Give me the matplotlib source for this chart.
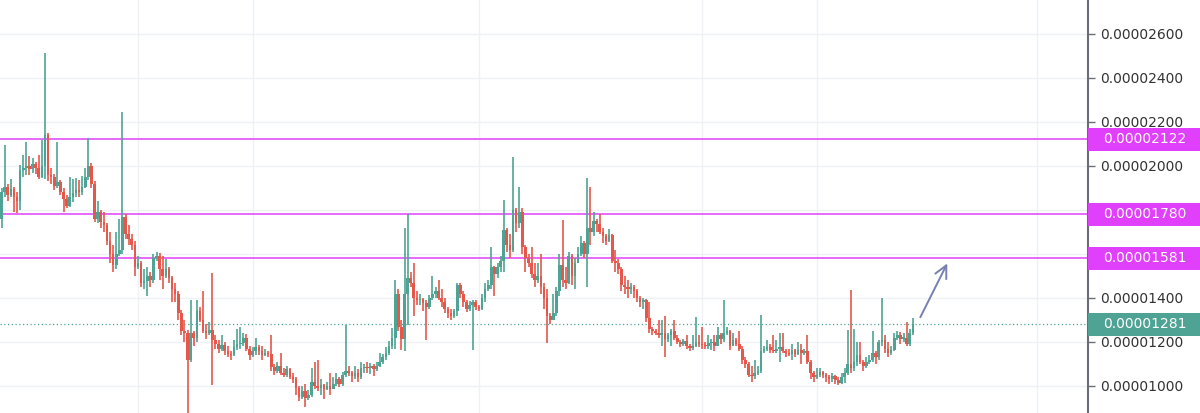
import matplotlib
matplotlib.use("Agg")
import matplotlib.pyplot as plt
import matplotlib.transforms as mtransforms
from matplotlib.patches import Rectangle
import numpy as np

# prices in units of 1e-8 (satoshi-style), open = previous close
SAT = 1e-8
first_open = 1760
close = [
    1880, 1905, 1870, 1895, 1860, 1840, 1980, 1990, 2000, 1985,
    2010, 1990, 1950, 2000, 2140, 1960, 1950, 1910, 1925, 1880,
    1850, 1820, 1860, 1875, 1890, 1880, 1905, 1950, 2000, 1920,
    1760, 1790, 1745, 1730, 1660, 1600, 1550, 1600, 1620, 1770,
    1690, 1670, 1640, 1540, 1560, 1470, 1475, 1500, 1480, 1580,
    1590, 1530, 1500, 1530, 1490, 1440, 1420, 1330, 1250, 1240,
    1120, 1240, 1220, 1340, 1300, 1250, 1240, 1255, 1210, 1190,
    1170, 1185, 1160, 1145, 1140, 1175, 1190, 1195, 1220, 1170,
    1140, 1160, 1175, 1160, 1140, 1150, 1145, 1085, 1070, 1090,
    1060, 1050, 1075, 1040, 1030, 990, 950, 975, 945, 960,
    1020, 1000, 990, 1005, 985, 1000, 985, 1010, 1030, 1010,
    1050, 1070, 1060, 1045, 1060, 1040, 1080, 1085, 1080, 1090,
    1075, 1090, 1110, 1130, 1150, 1180, 1220, 1420, 1270, 1215,
    1420, 1490, 1470, 1400, 1390, 1395, 1375, 1360, 1400, 1420,
    1430, 1400, 1380, 1350, 1330, 1320, 1340, 1460, 1420, 1380,
    1350, 1370, 1380, 1360, 1350, 1400, 1440, 1460, 1540, 1510,
    1540, 1570, 1710, 1640, 1620, 1800, 1740, 1790, 1630, 1580,
    1560, 1510, 1480, 1500, 1450, 1400, 1320, 1300, 1330, 1430,
    1550, 1480, 1470, 1590, 1500, 1560, 1600, 1650, 1600, 1720,
    1700, 1750, 1735, 1700, 1680, 1660, 1685, 1570, 1560, 1530,
    1460, 1450, 1440, 1450, 1430, 1400, 1380, 1390, 1310, 1260,
    1250, 1240, 1230, 1240, 1215, 1230, 1250, 1220, 1200, 1190,
    1205, 1180, 1175, 1180, 1200, 1190, 1185, 1180, 1195, 1200,
    1180, 1230, 1215, 1240, 1250, 1180, 1210, 1190, 1170, 1120,
    1100, 1050, 1045, 1060, 1070, 1160, 1170, 1175, 1165, 1160,
    1170, 1175, 1160, 1150, 1145, 1165, 1145, 1165, 1150, 1160,
    1110, 1060, 1040, 1050, 1065, 1050, 1040, 1030, 1045, 1025,
    1015, 1040, 1060, 1100, 1080, 1110, 1140, 1110, 1090, 1110,
    1120, 1150, 1130, 1200, 1210, 1170, 1150, 1165, 1220, 1230,
    1215, 1220, 1190, 1240, 1281,
]
high = [
    1900, 2095, 1920, 1940, 1905, 1880, 2005, 2050, 2110, 2045,
    2035, 2020, 2050, 2120, 2515, 2150, 1990, 1965, 2110, 1935,
    1900, 1870, 1950, 1940, 1945, 1935, 1955, 1990, 2125, 2015,
    1930, 1840, 1800, 1790, 1740, 1700, 1640, 1700, 1760, 2245,
    1780, 1730, 1690, 1660, 1590, 1570, 1530, 1540, 1520, 1600,
    1610, 1605, 1590, 1575, 1540, 1500, 1470, 1430, 1345, 1300,
    1255, 1391, 1250, 1390, 1360, 1430, 1280, 1290, 1514, 1230,
    1210, 1230, 1200, 1180, 1160, 1210, 1260, 1270, 1240, 1235,
    1180, 1175, 1220, 1185, 1180, 1170, 1160, 1232, 1100, 1110,
    1150, 1080, 1090, 1080, 1060, 1040, 1000, 1000, 1010, 980,
    1080, 1110, 1120, 1030, 1010, 1020, 1060, 1040, 1060, 1040,
    1065, 1277, 1090, 1070, 1090, 1075, 1110, 1100, 1110, 1105,
    1100, 1110, 1150, 1145, 1175, 1205, 1265, 1480, 1440, 1300,
    1720, 1780, 1520, 1560, 1430, 1420, 1400, 1390, 1415, 1500,
    1450, 1480, 1440, 1400, 1360, 1350, 1350, 1470, 1470, 1430,
    1390, 1385, 1390, 1390, 1370, 1420, 1470, 1480, 1630, 1545,
    1560, 1590, 1845, 1720, 1690, 2040, 1810, 1905, 1810, 1640,
    1600, 1630, 1560, 1560, 1600, 1470, 1440, 1330, 1420, 1450,
    1600, 1755, 1540, 1610, 1600, 1580, 1630, 1680, 1660, 1945,
    1905, 1790, 1760, 1780, 1720, 1690, 1715, 1690, 1620, 1575,
    1540, 1500, 1480, 1470, 1460, 1440, 1410, 1400, 1395, 1380,
    1270, 1260, 1300, 1300, 1320, 1240, 1260, 1300, 1230, 1210,
    1215, 1230, 1190, 1230, 1314, 1230, 1270, 1200, 1230, 1215,
    1230, 1270, 1240, 1391, 1270, 1255, 1240, 1220, 1250, 1180,
    1130, 1110, 1090, 1120, 1090, 1323, 1180, 1210, 1190, 1230,
    1210, 1240, 1240, 1170, 1170, 1190, 1170, 1200, 1190, 1170,
    1230, 1120, 1070, 1080, 1080, 1070, 1060, 1050, 1060, 1050,
    1040, 1060, 1080, 1255, 1436, 1260, 1200, 1200, 1120, 1130,
    1140, 1250, 1160, 1210, 1400, 1230, 1200, 1180, 1240, 1250,
    1245, 1240, 1290, 1260, 1310,
]
low = [
    1720, 1860, 1840, 1860, 1790, 1785, 1800, 1950, 1960, 1960,
    1970, 1965, 1940, 1945, 1940, 1930, 1920, 1890, 1900, 1870,
    1790, 1810, 1815, 1835, 1860, 1860, 1870, 1900, 1935, 1900,
    1745, 1740, 1720, 1700, 1640, 1560, 1520, 1530, 1590, 1600,
    1670, 1640, 1620, 1500, 1530, 1450, 1440, 1410, 1450, 1470,
    1570, 1480, 1440, 1490, 1470, 1380, 1380, 1300, 1230, 1200,
    860, 1110, 1180, 1200, 1290, 1240, 1215, 1230, 1005, 1170,
    1150, 1160, 1140, 1130, 1120, 1135, 1165, 1170, 1180, 1160,
    1120, 1130, 1140, 1140, 1120, 1135, 1130, 1070, 1050, 1060,
    1050, 1040, 1040, 1030, 1015, 960, 930, 940, 905, 935,
    950, 985, 975, 960, 940, 980, 960, 985, 1000, 995,
    1000, 1040, 1045, 1020, 1030, 1020, 1030, 1060, 1060, 1055,
    1045, 1070, 1085, 1100, 1120, 1140, 1170, 1170, 1250, 1165,
    1160, 1277, 1450, 1320, 1370, 1370, 1340, 1210, 1350, 1390,
    1400, 1390, 1360, 1330, 1310, 1300, 1310, 1320, 1400, 1360,
    1335, 1340, 1165, 1345, 1340, 1345, 1380, 1430, 1440, 1410,
    1490, 1520, 1520, 1610, 1580, 1610, 1700, 1720, 1600, 1520,
    1540, 1490, 1450, 1470, 1420, 1350, 1195, 1280, 1300, 1320,
    1410, 1450, 1440, 1465, 1460, 1440, 1560, 1590, 1580, 1450,
    1640, 1680, 1700, 1690, 1650, 1640, 1655, 1560, 1520, 1510,
    1430, 1420, 1400, 1420, 1400, 1380, 1360, 1350, 1290, 1240,
    1230, 1230, 1220, 1180, 1130, 1200, 1180, 1210, 1190, 1175,
    1180, 1170, 1160, 1165, 1175, 1175, 1170, 1170, 1170, 1165,
    1160, 1200, 1190, 1200, 1230, 1165, 1180, 1180, 1160, 1100,
    1080, 1040, 1020, 1030, 1050, 1060, 1150, 1160, 1150, 1150,
    1150, 1110, 1150, 1130, 1135, 1120, 1130, 1140, 1100, 1140,
    1100, 1030, 1020, 1030, 1040, 1035, 1020, 1010, 1020, 1010,
    1005, 1010, 1015, 1050, 1060, 1070, 1090, 1100, 1070, 1080,
    1100, 1110, 1100, 1120, 1180, 1150, 1130, 1140, 1160, 1210,
    1190, 1200, 1180, 1180, 1230,
]
levels = [2122, 1780, 1581]          # horizontal levels drawn on the chart
price_ticks = [1000, 1200, 1400, 1600, 1800, 2000, 2200, 2400, 2600]
hidden_ticks = [1600, 1800]          # labels covered by the level tags
time_grid = [44, 81, 154, 226, 263, 334]  # candle index of date gridlines

assert len(close) == len(high) == len(low)

TEAL = "#4fa394"
RED = "#e5574b"
MAG = "#e040fb"
GRID = "#eff1f5"
AXC = "#6a6d78"

o = np.array([first_open] + close[:-1], dtype=float)
c = np.array(close, dtype=float)
h = np.maximum(np.array(high, dtype=float), np.maximum(o, c))
l = np.minimum(np.array(low, dtype=float), np.minimum(o, c))
x = np.arange(len(c))
cols = np.where(c >= o, TEAL, RED)
# keep flat bodies visible (about 1 px)
body = np.where(np.abs(c - o) < 6, 6.0, np.abs(c - o))
bottom = np.minimum(o, c) - (body - np.abs(c - o)) / 2

fig = plt.figure(figsize=(12, 4.13), dpi=100)
ax = fig.add_axes([0, 0, 1088 / 1200, 1])

for t in price_ticks:
    ax.axhline(t * SAT, color=GRID, lw=1, zorder=0)
for g in time_grid:
    ax.axvline(g, color=GRID, lw=1, zorder=0)

ax.vlines(x, l * SAT, h * SAT, colors=cols, lw=1.2, zorder=2)
ax.bar(x, body * SAT, bottom=bottom * SAT, width=0.85, color=cols, lw=0, zorder=2)

blend = mtransforms.blended_transform_factory(ax.transAxes, ax.transData)
box_h = 105 * SAT
for v in levels:
    ax.axhline(v * SAT, color=MAG, lw=1.1, zorder=1.5)
    ax.add_patch(Rectangle((1.0, v * SAT - box_h / 2), 0.11, box_h, transform=blend,
                           facecolor=MAG, edgecolor="none", clip_on=False, zorder=3))
    ax.text(1.0135, v * SAT, f"{v * SAT:.8f}", transform=blend, color="white",
            fontsize=10, va="center", ha="left", clip_on=False, zorder=4)

last = close[-1]
ax.axhline(last * SAT, color=TEAL, lw=0.9, ls=(0, (1, 2)), zorder=1.5)
ax.add_patch(Rectangle((1.0, last * SAT - box_h / 2), 0.11, box_h, transform=blend,
                       facecolor=TEAL, edgecolor="none", clip_on=False, zorder=3))
ax.text(1.0135, last * SAT, f"{last * SAT:.8f}", transform=blend, color="white",
        fontsize=10, va="center", ha="left", clip_on=False, zorder=4)

# projection arrow from the last candle up towards the 1581 level
n = len(c)
ax.annotate("", xy=(n + 10.5, (levels[2] - 13) * SAT), xytext=(n + 1, (last + 20) * SAT),
            arrowprops=dict(arrowstyle="->", color="#7780b0", lw=1.4, mutation_scale=22),
            zorder=4)

ax.set_xlim(-0.5, 350.5)
ax.set_ylim(877 * SAT, 2754 * SAT)
ax.set_xticks([])
ax.yaxis.tick_right()
ax.set_yticks([t * SAT for t in price_ticks])
ax.set_yticklabels(["" if t in hidden_ticks else f"{t * SAT:.8f}" for t in price_ticks])
ax.tick_params(axis="y", length=5, width=1, color=AXC, labelsize=10,
               labelcolor="#333333", pad=4)
for s in ("top", "left", "bottom"):
    ax.spines[s].set_visible(False)
ax.spines["right"].set_color(AXC)
ax.spines["right"].set_linewidth(1.5)

fig.savefig("out.png", dpi=100)
